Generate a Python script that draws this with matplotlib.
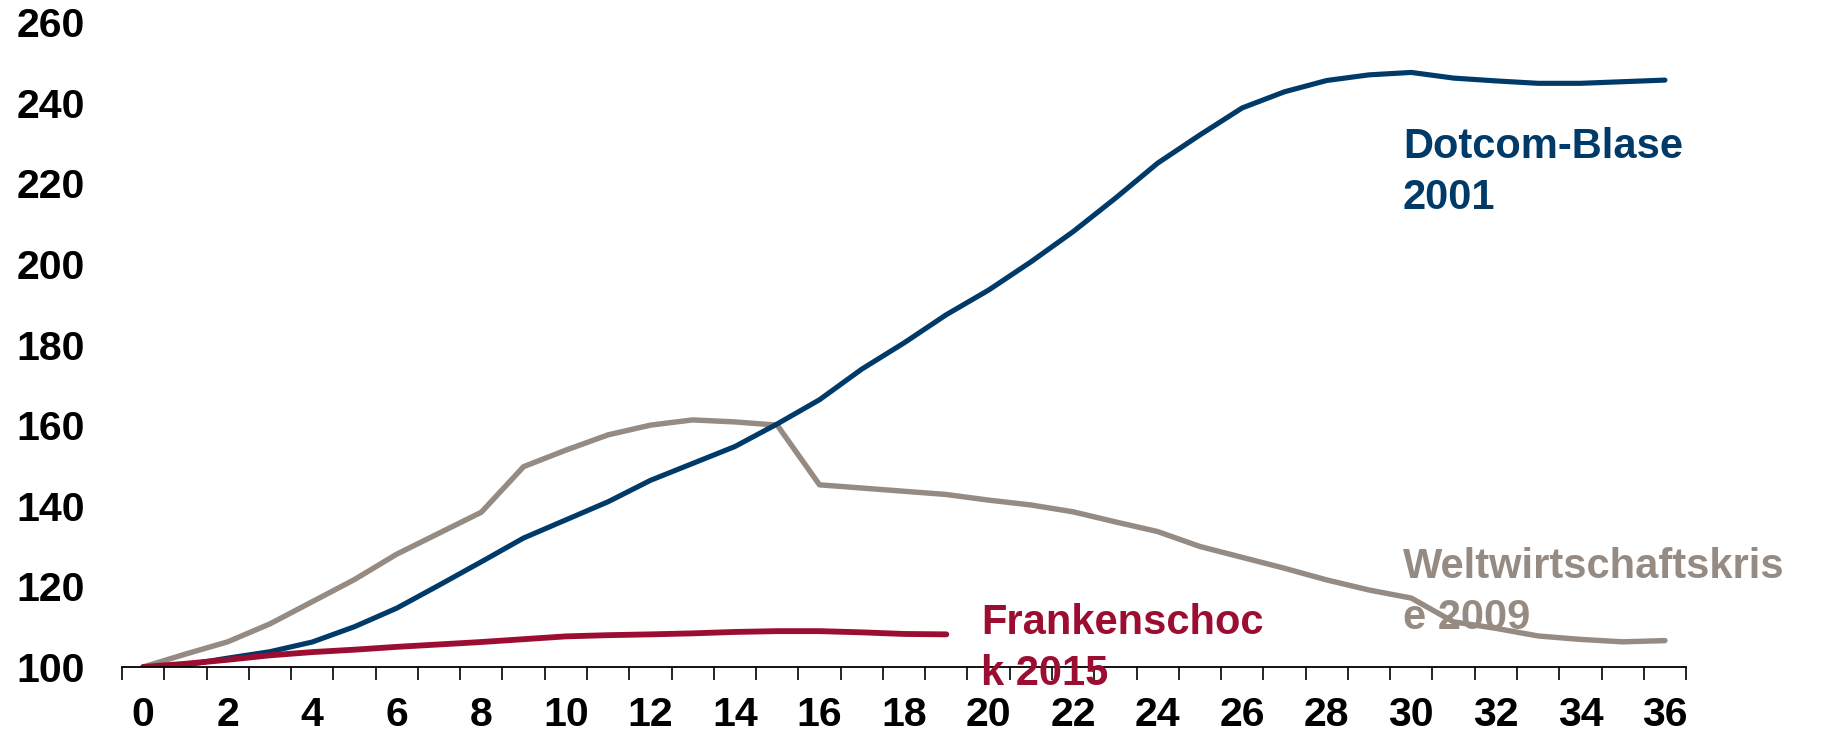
import matplotlib
matplotlib.use("Agg")
import matplotlib.pyplot as plt
import numpy as np

plt.rcParams['font.family'] = ['Liberation Sans', 'DejaVu Sans']
plt.rcParams['font.weight'] = 'bold'

months_long = list(range(0, 37))
months_short = list(range(0, 20))

dotcom_2001 = [100.0, 100.5, 102.2, 103.8, 106.2, 110.0, 114.6, 120.3, 126.1, 132.0,
               136.5, 141.0, 146.3, 150.5, 154.7, 160.3, 166.3, 173.9, 180.4, 187.4,
               193.5, 200.5, 208.0, 216.3, 225.0, 232.0, 238.7, 242.7, 245.5, 246.9,
               247.5, 246.1, 245.4, 244.8, 244.8, 245.2, 245.6]

krise_2009 = [100.0, 103.2, 106.25, 110.7, 116.2, 121.7, 128.0, 133.2, 138.4, 149.7,
              153.8, 157.6, 160.0, 161.3, 160.8, 160.0, 145.2, 144.4, 143.6, 142.8,
              141.4, 140.2, 138.5, 136.0, 133.6, 129.9, 127.2, 124.5, 121.6, 119.1,
              117.1, 111.2, 109.6, 107.7, 106.85, 106.25, 106.55]

franken_2015 = [100.0, 100.8, 101.8, 102.9, 103.7, 104.3, 105.0, 105.6, 106.2, 106.9,
                107.6, 107.9, 108.1, 108.35, 108.7, 108.9, 108.9, 108.6, 108.2, 108.1]

x_ticks = list(range(0, 37, 2))
y_ticks = list(range(100, 261, 20))

label_dotcom = "Dotcom-Blase\n2001"
label_krise = "Weltwirtschaftskris\ne 2009"
label_franken = "Frankenschoc\nk 2015"

c_blue = "#003A68"
c_gray = "#968B82"
c_red = "#9C0E31"

fig = plt.figure(figsize=(18.21, 7.35), dpi=100)
ax = fig.add_axes([0.067, 0.0925, 0.8589, 0.8775])

ax.plot(months_long, krise_2009, color=c_gray, lw=3.9, solid_capstyle='round', zorder=2)
ax.plot(months_long, dotcom_2001, color=c_blue, lw=3.7, solid_capstyle='round', zorder=3)
ax.plot(months_short, franken_2015, color=c_red, lw=4.2, solid_capstyle='round', zorder=4)

ax.set_xlim(-0.5, 36.5)
ax.set_ylim(100, 260)

ax.set_xticks(x_ticks)
ax.set_xticklabels([str(t) for t in x_ticks])
ax.set_xticks(np.arange(-0.5, 37.0, 1.0), minor=True)
ax.set_yticks(y_ticks)
ax.set_yticklabels([str(t) for t in y_ticks])

ax.tick_params(axis='x', which='major', length=0, pad=21, labelsize=29.5)
ax.tick_params(axis='x', which='minor', length=9.4, width=1.2, direction='out', color='black')
ax.tick_params(axis='y', which='major', length=0, pad=27, labelsize=29.5)
for lab in ax.get_xticklabels() + ax.get_yticklabels():
    lab.set_fontweight('bold')

for s in ['top', 'right', 'left']:
    ax.spines[s].set_visible(False)
ax.spines['bottom'].set_linewidth(1.3)
ax.spines['bottom'].set_color('black')
ax.spines['bottom'].set_zorder(5)

ax.text(29.8, 234.0, label_dotcom, color=c_blue, fontsize=30, fontweight='bold',
        ha='left', va='top', linespacing=1.36, zorder=6, clip_on=False)
ax.text(29.8, 129.8, label_krise, color=c_gray, fontsize=30, fontweight='bold',
        ha='left', va='top', linespacing=1.36, zorder=6, clip_on=False)
ax.text(19.82, 115.9, label_franken, color=c_red, fontsize=30, fontweight='bold',
        ha='left', va='top', linespacing=1.36, zorder=6, clip_on=False)

fig.savefig("out.png", dpi=100)
